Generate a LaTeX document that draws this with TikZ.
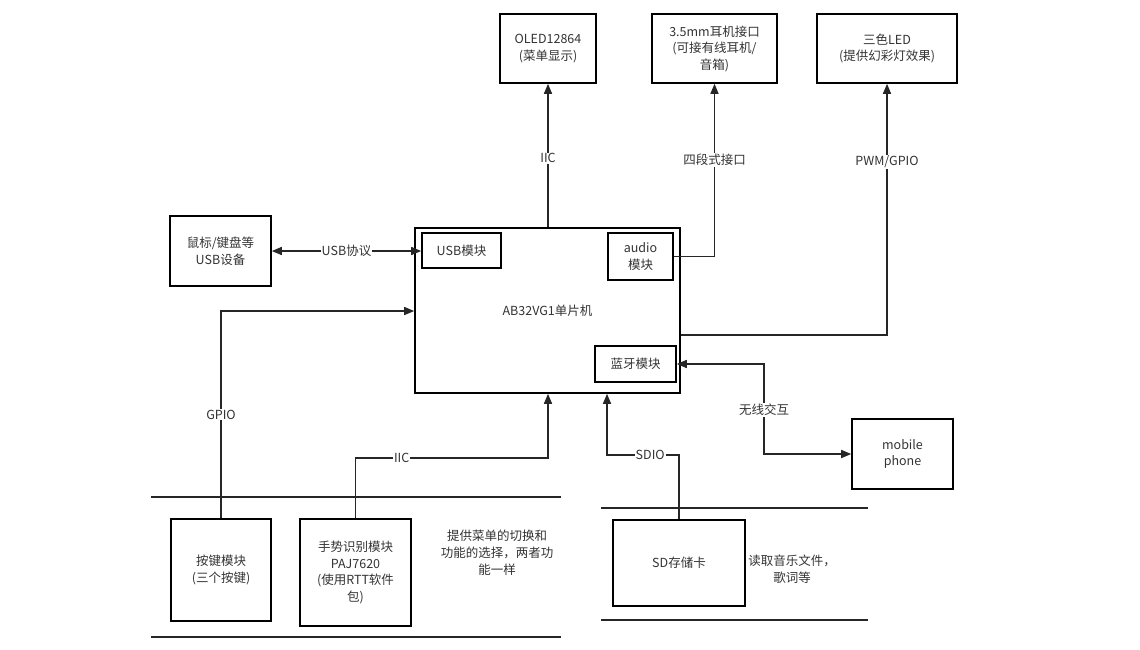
\documentclass[tikz,border=0pt]{standalone}
\usepackage{fontspec}
\setmainfont{Noto Sans CJK SC}
\usetikzlibrary{arrows.meta}
\definecolor{txt}{HTML}{333333}
\begin{document}
\begin{tikzpicture}[x=1pt,y=-1pt,
  box/.style={draw=black,line width=1.6pt,inner sep=0pt,text=txt,align=center,font=\fontsize{12.5}{16.5}\selectfont},
  conn/.style={draw=black!85,line width=1.5pt},
  tip/.style={-{Triangle[length=10pt,width=8pt]}},
  dtip/.style={{Triangle[length=10pt,width=8pt]}-{Triangle[length=10pt,width=8pt]}},
  lbl/.style={fill=white,inner sep=1pt,text=txt,font=\fontsize{12.5}{15}\selectfont},
  note/.style={text=txt,align=center,font=\fontsize{12.5}{17}\selectfont},
  sep/.style={draw=black!85,line width=1.5pt}]
\useasboundingbox (0,0) rectangle (1140,649);
% boxes
\node[box,minimum width=96pt,minimum height=69pt] (oled) at (548,48.5) {OLED12864\\(菜单显示)};
\node[box,minimum width=125pt,minimum height=69pt] (jack) at (714.5,48.5) {3.5mm耳机接口\\(可接有线耳机/\\音箱)};
\node[box,minimum width=140pt,minimum height=69pt] (led) at (887,48.5) {三色LED\\(提供幻彩灯效果)};
\node[box,minimum width=101pt,minimum height=70pt] (mouse) at (220.5,251) {鼠标/键盘等\\USB设备};
\node[box,minimum width=265pt,minimum height=165pt] (mcu) at (547.5,310.5) {AB32VG1单片机};
\node[box,minimum width=79pt,minimum height=35pt] (usb) at (461.5,250.5) {USB模块};
\node[box,minimum width=65pt,minimum height=47pt] (audio) at (640.5,256.5) {audio\\模块};
\node[box,minimum width=81pt,minimum height=36pt] (bt) at (635.5,364) {蓝牙模块};
\node[box,minimum width=101pt,minimum height=70pt] (phone) at (902.5,454) {mobile\\phone};
\node[box,minimum width=100pt,minimum height=102pt] (key) at (221,570) {按键模块\\(三个按键)};
\node[box,minimum width=111pt,minimum height=107pt] (ges) at (355.5,572.5) {手势识别模块\\PAJ7620\\(使用RTT软件\\包)};
\node[box,minimum width=132pt,minimum height=86pt] (sd) at (679,563) {SD存储卡};
% notes
\node[note] (n1) at (497,553) {提供菜单的切换和\\功能的选择，两者功\\能一样};
\node[note] (n2) at (792,569) {读取音乐文件，\\歌词等};
% separators
\coordinate (s1a) at (151,497); \coordinate (s1b) at (561,497);
\coordinate (s2a) at (151,637); \coordinate (s2b) at (561,637);
\coordinate (s3a) at (601,508); \coordinate (s3b) at (868,508);
\coordinate (s4a) at (601,620); \coordinate (s4b) at (868,620);
\draw[sep] (s1a) -- (s1b);
\draw[sep] (s2a) -- (s2b);
\draw[sep] (s3a) -- (s3b);
\draw[sep] (s4a) -- (s4b);
% connectors
\draw[conn,tip] (mcu.north -| oled) -- node[lbl,pos=0.48]{IIC} (oled.south);
\draw[conn,tip] (audio.east) -| node[lbl,pos=0.78]{四段式接口} (jack.south);
\draw[conn,tip] (mcu.east |- 0,335) -| node[lbl,pos=0.845]{PWM/GPIO} (led.south);
\draw[conn,dtip] (mouse.east) -- node[lbl]{USB协议} (usb.west |- mouse.east);
\draw[conn,tip] (key.north) |- node[lbl,pos=0.25]{GPIO} (mcu.west |- 0,311);
\draw[conn,tip] (ges.north) |- (548,458) node[lbl,pos=0.62]{IIC} -- (mcu.south -| 548,0);
\draw[conn,tip] (sd.north) |- (607,455) node[lbl,pos=0.7]{SDIO} -- (mcu.south -| 607,0);
\draw[conn,dtip] (bt.east) -| (764,410) node[lbl]{无线交互} |- (phone.west);
\end{tikzpicture}
\end{document}
